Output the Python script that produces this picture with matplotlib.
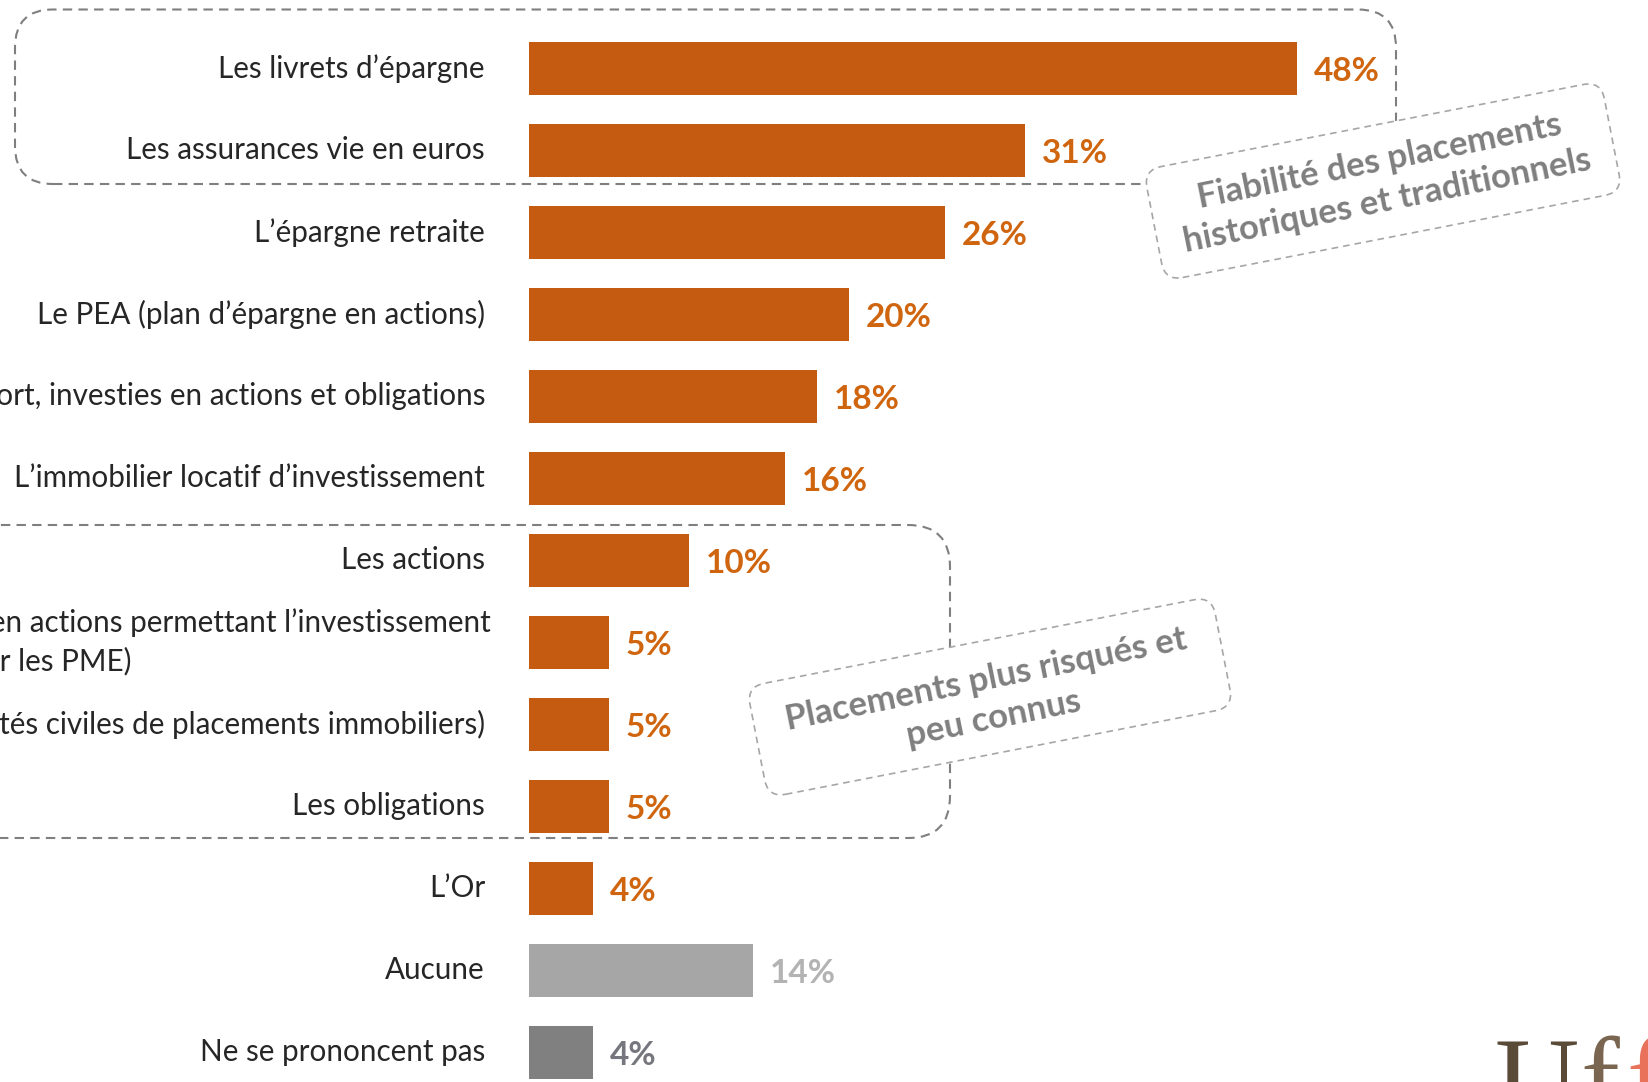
import matplotlib
matplotlib.use("Agg")
import matplotlib.pyplot as plt
import numpy as np
from matplotlib.patches import FancyBboxPatch
from matplotlib.transforms import Affine2D

# ---------------- data ----------------
categories = [
    "Les livrets d’épargne",
    "Les assurances vie en euros",
    "L’épargne retraite",
    "Le PEA (plan d’épargne en actions)",
    "Les assurances vie multisupport, investies en actions et obligations",
    "L’immobilier locatif d’investissement",
    "Les actions",
    "Les FCPI / FIP (fonds en actions permettant l’investissement\ndans l’innovation et pour les PME)",
    "Les SCPI (sociétés civiles de placements immobiliers)",
    "Les obligations",
    "L’Or",
    "Aucune",
    "Ne se prononcent pas",
]
values = [48, 31, 26, 20, 18, 16, 10, 5, 5, 5, 4, 14, 4]
value_labels = ["48%", "31%", "26%", "20%", "18%", "16%", "10%", "5%", "5%", "5%", "4%", "14%", "4%"]
box_texts = ["Fiabilité des placements\nhistoriques et traditionnels",
             "Placements plus risqués et\npeu connus"]

# ---------------- style ----------------
ORANGE = "#C55A11"
ORANGE_TXT = "#D0650F"
bar_colors = [ORANGE] * 11 + ["#A6A6A6", "#808080"]
txt_colors = [ORANGE_TXT] * 11 + ["#B3B3B3", "#76767E"]
LABEL_FONT = ["Lato", "DejaVu Sans"]
LABEL_SIZE = 21.3

W, H = 1649, 1082
fig = plt.figure(figsize=(W / 100, H / 100), dpi=100)
fig.patch.set_facecolor("white")

# main axes, whole figure
ax = fig.add_axes([0, 0, 1, 1])
x0_px, px_per = 529.0, 16.0
row0_px, row_step = 68.4, 82.0
ax.set_xlim(-x0_px / px_per, (W - x0_px) / px_per)
ax.set_ylim((H - row0_px) / row_step, -row0_px / row_step)
ax.axis("off")

y = np.arange(len(categories))
ax.barh(y, values, height=0.64, color=bar_colors, zorder=2)

label_x = (485 - x0_px) / px_per
for i, (cat, v, vl, tc) in enumerate(zip(categories, values, value_labels, txt_colors)):
    lines = cat.split("\n")
    if len(lines) == 1:
        ax.text(label_x, i, cat, ha="right", va="center", fontsize=LABEL_SIZE,
                color="#262626", family=LABEL_FONT, zorder=3)
    else:
        ax.text((491 - x0_px) / px_per, i - 0.238, lines[0], ha="right", va="center",
                fontsize=LABEL_SIZE, color="#262626", family=LABEL_FONT, zorder=3)
        ax.text((131.5 - x0_px) / px_per, i + 0.238, lines[1], ha="right", va="center",
                fontsize=LABEL_SIZE, color="#262626", family=LABEL_FONT, zorder=3)
    ax.text(v + 1.05, i + 0.04, vl, ha="left", va="center", fontsize=24,
            fontweight="bold", color=tc, family=LABEL_FONT, zorder=3)

# overlay axes in pixel coordinates (y up)
ov = fig.add_axes([0, 0, 1, 1], facecolor="none")
ov.set_xlim(0, W)
ov.set_ylim(0, H)
ov.axis("off")

def Y(py):
    return H - py

DASH = (0, (4.5, 3))

# group box 1 (top)
b1 = FancyBboxPatch((15, Y(184)), 1396 - 15, 184 - 9.5,
                    boxstyle="round,pad=0,rounding_size=38",
                    fill=False, edgecolor="#7F7F7F", lw=1.5, linestyle=DASH, zorder=1)
ov.add_patch(b1)
# group box 2 (middle, left part out of frame)
b2 = FancyBboxPatch((-60, Y(838)), 950 + 60, 838 - 525,
                    boxstyle="round,pad=0,rounding_size=42",
                    fill=False, edgecolor="#7F7F7F", lw=1.5, linestyle=DASH, zorder=1)
ov.add_patch(b2)

def rot_box(cx, cy, w, h, ang, text, dy=0):
    t = Affine2D().rotate_deg_around(cx, Y(cy), ang) + ov.transData
    p = FancyBboxPatch((cx - w / 2, Y(cy) - h / 2), w, h,
                       boxstyle="round,pad=0,rounding_size=18",
                       facecolor="white", edgecolor="#A6A6A6", lw=1.2,
                       linestyle=(0, (4, 3)), transform=t, zorder=5)
    ov.add_patch(p)
    ov.text(cx, Y(cy + dy), text, ha="center", va="center", rotation=ang + 0.5,
            rotation_mode="anchor", fontsize=25, fontweight="bold",
            color="#7F7F7F", family=LABEL_FONT, linespacing=1.3, zorder=6)

rot_box(1383, 181, 466, 113, 11, box_texts[0])
rot_box(990, 697, 474, 113, 11, box_texts[1], dy=2)

# partial logo bottom right
ov.text(1495, Y(1118), "U", fontsize=84, color="#5A4A38", family="Liberation Serif",
        ha="left", va="baseline", zorder=4)
ov.text(1580, Y(1118), "f", fontsize=84, color="#7A6650", family="Liberation Serif",
        ha="left", va="baseline", zorder=4)
ov.text(1626, Y(1118), "f", fontsize=84, color="#E8735A", family="Liberation Serif",
        ha="left", va="baseline", zorder=4)

fig.savefig("out.png", dpi=100, facecolor="white")
